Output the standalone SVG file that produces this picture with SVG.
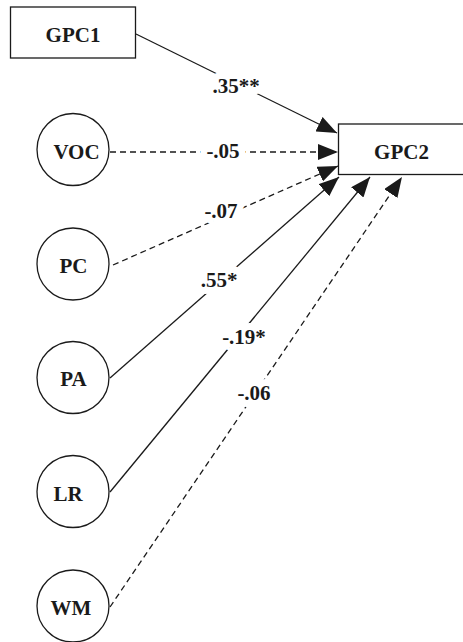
<svg xmlns="http://www.w3.org/2000/svg" width="463" height="642" viewBox="0 0 463 642">
<style>
.box{fill:#fff;stroke:#1a1a1a;stroke-width:1.3}
.t{font-family:"Liberation Serif","Times New Roman",serif;font-weight:bold;font-size:21px;fill:#1a1a1a;text-anchor:middle}
.lbl{stroke:#fff;stroke-width:14;paint-order:stroke;stroke-linejoin:round}
.e{stroke:#1a1a1a;stroke-width:1.3;fill:none}
.d{stroke-dasharray:6 4}
</style>
<defs>
<marker id="ah" markerUnits="userSpaceOnUse" markerWidth="21" markerHeight="16" viewBox="0 0 21 16" refX="20" refY="8" orient="auto">
<path d="M0,0 L20,8 L0,16 Z" fill="#1a1a1a"/>
</marker>
</defs>
<g id="edges">
<line class="e" x1="136" y1="34" x2="337" y2="133" marker-end="url(#ah)"/>
<line class="e d" x1="110" y1="152" x2="338" y2="152" marker-end="url(#ah)"/>
<line class="e d" x1="113" y1="265" x2="338" y2="166" marker-end="url(#ah)"/>
<line class="e" x1="110" y1="378" x2="339" y2="177" marker-end="url(#ah)"/>
<line class="e" x1="110" y1="492" x2="370" y2="177" marker-end="url(#ah)"/>
<line class="e d" x1="110" y1="607" x2="402" y2="177" marker-end="url(#ah)"/>
<text class="t lbl" x="236" y="93">.35**</text>
<text class="t lbl" x="223" y="158">-.05</text>
<text class="t lbl" x="221" y="218">-.07</text>
<text class="t lbl" x="219" y="287">.55*</text>
<text class="t lbl" x="244" y="344">-.19*</text>
<text class="t lbl" x="254" y="400">-.06</text>
</g>
<g id="GPC1"><rect class="box" x="10.5" y="7" width="125" height="51"/><text class="t" x="73" y="42">GPC1</text></g>
<g id="GPC2"><rect class="box" x="338.5" y="124" width="140" height="50.5"/><text class="t" x="401.5" y="158.5">GPC2</text></g>
<g id="VOC"><circle class="box" cx="73" cy="149.5" r="36"/><text class="t" x="76.5" y="158.5">VOC</text></g>
<g id="PC"><circle class="box" cx="73" cy="264" r="36"/><text class="t" x="73.5" y="272.5">PC</text></g>
<g id="PA"><circle class="box" cx="73" cy="377.5" r="36"/><text class="t" x="73.5" y="386">PA</text></g>
<g id="LR"><circle class="box" cx="73" cy="491.5" r="36"/><text class="t" x="68" y="500.5">LR</text></g>
<g id="WM"><circle class="box" cx="73" cy="606" r="36"/><text class="t" x="71" y="615">WM</text></g>
</svg>
